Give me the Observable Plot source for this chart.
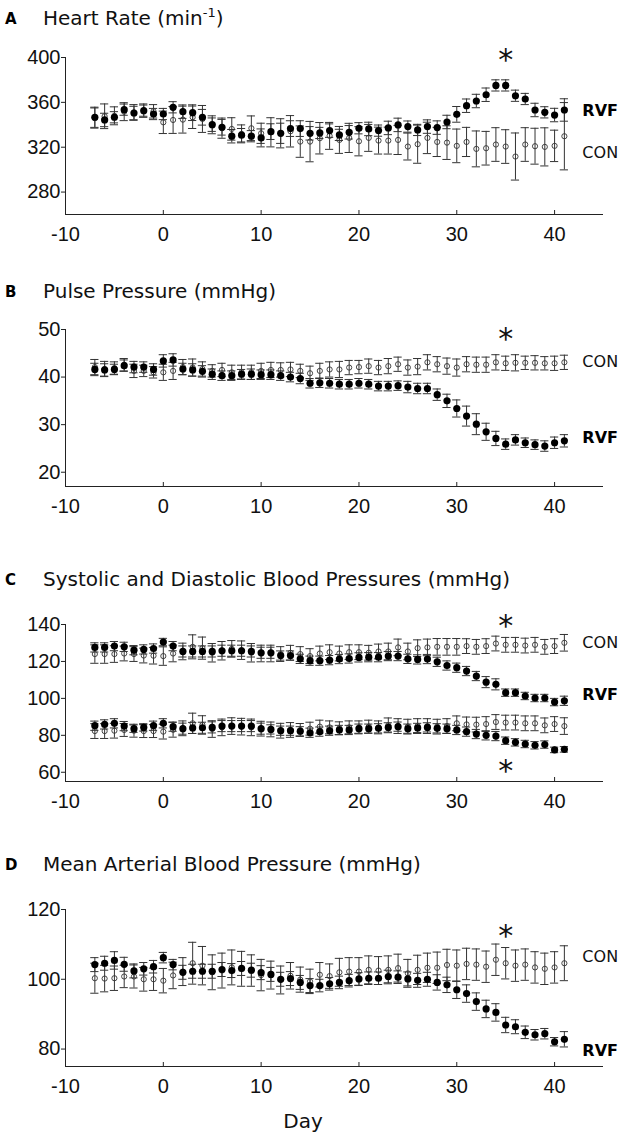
<!DOCTYPE html>
<html><head><meta charset="utf-8">
<script src="https://cdn.jsdelivr.net/npm/d3@7"></script>
<script src="https://cdn.jsdelivr.net/npm/@observablehq/plot@0.6"></script>
<style>
body{margin:0;background:#fff;}
#root{position:relative;width:621px;height:1139px;overflow:hidden;background:#fff;}
.t{position:absolute;font-family:"DejaVu Sans";font-size:20px;line-height:20px;white-space:nowrap;color:#111;z-index:5}
.t sup{font-size:13px;line-height:0;vertical-align:8px}
.l{position:absolute;font-family:"DejaVu Sans",sans-serif;font-weight:700;font-size:15px;line-height:15px;color:#000;z-index:5}
.chart{position:absolute;left:0;z-index:1}
</style></head><body><div id="root"></div>
<script>
// ---- data ----
const days = [-7,-6,-5,-4,-3,-2,-1,0,1,2,3,4,5,6,7,8,9,10,11,12,13,14,15,16,17,18,19,20,21,22,23,24,25,26,27,28,29,30,31,32,33,34,35,36,37,38,39,40,41];
const xTicks = [-10,0,10,20,30,40];

// A: Heart rate
const hrRVF = [346.7,344.3,346.7,353.5,350.5,352.6,349.6,349.6,355.6,351.7,350.8,346.7,
  340.1,337.8,329.8,330.7,329.8,328.3,333.9,332.4,336.6,336.6,332.4,332.7,334.8,
  331,333.3,336.9,336.3,334.8,337.2,339.9,338.4,335.4,338.4,337.5,342.5,
  349.3,357,361.2,366.8,375.1,375.1,365.9,363,353.2,351.1,348.7,353.2];
const hrRVFerr = [9,6,5,5,6,5,5,5,5,6,7,7, 6,7,6,6,5,8,7,9,7,7,6,5,6, 5,6,5,6,5,6,6,5,5,6,6,6, 7,6,6,6,5,5,5,5,6,5,6,10];
const hrCON = [346,347.6,348,351.7,351,352.6,352,342.2,344.3,344.6,346.7,345.2,
  340,337,336.3,331.9,336.9,332.4,333.3,332.4,334.2,325,325,328,330.1,
  326.5,328.3,325.3,328.3,325.9,325.9,326.5,320.6,322.7,328.3,324.7,324.1,
  321.2,324.7,318.5,319.1,322.4,320.6,311.7,322.4,320.9,320.3,321.2,329.8];
const hrCONerr = [9,11,8,8,7,6,6,10,12,12,10,12, 8,9,10,8,11,9,13,13,14,14,18,14,12, 12,13,13,12,12,12,13,12,17,14,13,15, 15,13,16,15,15,15,21,15,16,17,14,30];

// B: Pulse pressure
const ppRVF = [41.6,41.5,41.6,42.4,42.1,42.1,41.6,43.4,43.6,41.7,41.5,41.2,
  40.6,40.3,40.3,40.6,40.6,40.5,40.5,40.3,40,39.7,38.7,38.8,38.7,
  38.5,38.5,38.7,38.5,38.1,38.1,38.2,37.9,37.6,37.6,36.3,35,
  33.4,31.8,30.1,28.5,27.1,25.9,26.8,26.2,25.8,25.5,26.2,26.6];
const ppRVFerr = [1.3,1.3,1.1,1.2,1.2,1.1,1.2,1.3,1.3,1.2,1.3,1.2, 1.1,1,1,1,1.1,1,1,1,1,1.1,1,1,1, 1,1,1,1,1,1,1,1.2,1.1,1.1,1.2,1.4, 1.8,2.1,2.2,1.8,1.5,1.1,1.1,1,1,1.1,1.2,1.3];
const ppCON = [42.1,41.7,41.9,42.6,41.3,41.3,41,41,41.3,42.1,42,41.7,
  41.3,41.5,41,41,41,41.3,41.5,41.5,41.6,41.3,40.8,41.3,41.6,
  41.6,42,42.1,42.3,42,42.3,42.7,42,42.2,43.1,42.7,42.3,
  42,42.7,42.6,42.6,43.1,42.9,43,43,43,42.9,42.9,43.1];
const ppCONerr = [1.6,1.6,1.3,1.3,1.4,1.2,1.2,1.7,1.8,1.6,1.8,1.5, 1.3,1.4,1.5,1.5,1.5,1.6,1.6,1.5,1.5,1.4,1.5,1.6,1.6, 1.7,1.5,1.4,1.5,1.5,1.6,1.5,1.6,1.7,1.6,1.6,1.7, 1.8,1.6,1.6,1.6,1.6,1.5,1.7,1.4,1.5,1.4,1.5,1.5];

// C: Systolic / diastolic
const sysRVF = [127.6,127.6,128.3,127.9,126.1,126.5,127,130.5,128.3,125.4,125.4,125.4,
  125.4,125.8,125.8,125.8,125.4,124.7,124.7,123.2,123.2,121.4,120.4,120.4,120.7,
  121.3,121.6,122.2,122.3,122.3,122.9,122.9,121.4,121.1,121.3,119.8,117.8,
  116.6,114.8,112.1,108.8,107.6,103.1,103.1,101.3,100.2,100.2,98,98.7];
const sysRVFerr = [2.5,2.5,2.5,2.5,2.5,2.5,2.5,2,2.5,3,3,3, 3,3,3,3,3,3,3,2.5,2.5,2.5,2.5,2.5,2.5, 2.5,2.5,2.5,2.5,2.5,2.5,2.5,2.5,2.5,2.5,2.5,2.5, 2.5,2.5,2.5,3,3,2,2,2,2,2,2,2.5];
const sysCON = [124,124,124,124.3,124,123.2,123.1,122.9,124.3,125.4,127.9,127.2,
  124.7,125.8,126.8,126.1,124.7,124.3,124.3,124,124.7,124,122.9,124.3,125,
  124.3,125,125,124.7,125.4,125.4,127.6,125.4,127.2,127.6,127.9,127.9,
  127.9,128.3,127.9,128.3,129.7,129,129,128.6,129,127.9,128.3,130.1];
const sysCONerr = [5,5,4.5,4,4,4,4.5,5,4.5,4.5,6.5,6, 5,5,4.5,5,5,4.5,4.5,4,4,4,4,4,4, 4,4,4,4,4,4.5,4.5,4.5,4.5,4.5,4.5,4.5, 4.5,4,4,4,4,4,4,4,4,4,4,4.5];
const diaRVF = [85.2,85.9,86.5,85,83.6,84.3,85.2,86.5,84.7,83.6,84,84.1,
  84.3,85,85,85,85,83.6,83.2,82.5,82.5,82.2,81.4,82,82.5,
  82.9,82.9,83.6,83.6,83.8,84.3,84.7,83.6,84,84.3,83.8,83.6,
  82.9,82,80.7,80,79.6,77.1,76.2,75.3,74.6,75,72.1,72.4];
const diaRVFerr = [2.5,2.5,2.5,2.5,2,2,2.5,2.5,2.5,3,3,3, 3,3,3,3,3,3,2.5,2.5,2.5,2.5,2.5,2.5,2.5, 2.5,2.5,2.5,2.5,2.5,2.5,2.5,2.5,2.5,2.5,2.5,2.5, 2.5,2.5,2.5,2.5,2.5,2,2,2,2,2,1.5,1.5];
const diaCON = [82.3,82.3,82.5,82.9,82.5,82.3,82.3,82,83,83.8,86.5,85.6,
  83.4,84.3,85,84.7,84.3,83.6,83.2,82.5,82.9,82.9,83.6,84.7,84.3,
  83.8,84.3,84.3,84.7,84.3,85.4,85,84.7,85,85,84.7,85,
  86.5,85.9,85.8,86.1,87.2,86.9,86.9,86.5,86.5,85.4,86.1,85];
const diaCONerr = [4,4,4,3.5,3.5,3.5,3.5,4,4,4,5.5,5, 4.5,4.5,4.5,4.5,4.5,4,4,4,4,3.5,3.5,3.5,3.5, 3.5,3.5,3.5,3.5,3.5,4,4,4,4,4,4,4, 4,4,4,4,4,4,4,4,4,4,4,4.5];

// D: Mean arterial pressure
const mapRVF = [104.2,104.6,105.4,104.3,102.4,103,103.6,106.2,104.2,102,102.3,102.3,
  102.3,102.8,102.5,103.1,102.6,101.9,101.4,100,100.2,99.1,98.2,98.2,98.7,
  99.1,99.6,100.1,100.3,100.3,100.8,100.6,100.1,99.7,100,99.1,98.4,
  97,95.9,93.6,91.5,90.5,86.9,86.4,84.8,84.1,84.4,82.1,82.8];
const mapRVFerr = [2,2,2.5,2,2,1.8,1.8,1.5,1.5,2,2,2, 2,2,2,2,2,2,2,2,2,2,2,1.8,1.8, 1.8,1.8,1.8,1.8,1.8,1.8,1.8,2,2,2,2.2,2.2, 2.5,2.5,2.5,2.5,2.5,2.2,2,1.8,1.5,1.5,1.2,2.2];
const mapCON = [100.3,100.2,100.3,100.8,100.8,100,100,99.6,101.1,102.2,104.6,103.9,
  102,102.5,103.4,103,102.5,101.2,101.2,99.8,101,99.9,99.4,101.3,100.9,
  102,102.2,102.2,102.7,102.5,102.7,103.2,101.7,102.7,103.3,103.3,104.1,
  103.9,104.4,104.2,103.6,105.6,104.6,103.9,104.2,103.4,103,103.4,104.6];
const mapCONerr = [4.3,3.8,3.5,3.2,3.3,3.4,3.2,3.5,3.8,4,6,5.5, 5,5,5,5,4.5,4.5,4,4,3.8,3.6,3.5,3.5,3.5, 4,4,4,4,4,4,4,4,4.2,4.2,4.5,4.5, 4.5,4.5,4.5,4.5,4.5,4.5,4.5,4.5,4.5,4.5,4.5,5];

// ---- drawing ----
const rows = (v, e) => days.map((d, i) => ({day: d, v: v[i], e: e[i]}));
const root = document.getElementById("root");
const PH = 157; // plot-frame height in px
const mT = 40, mB = 45;
const axisCol = "#222", barCol = "#333";

function addText(cls, html, left, top, center) {
  const el = document.createElement("div");
  el.className = cls; el.innerHTML = html;
  el.style.left = left + "px"; el.style.top = top + "px";
  if (center) el.style.transform = "translateX(-50%)";
  root.appendChild(el);
}

function panel(cfg) {
  const errMarks = [];
  const dotMarks = [];
  for (const s of cfg.series) {
    const data = rows(s.v, s.e);
    errMarks.push(
      Plot.ruleX(data, {x: "day", y1: d => d.v - d.e, y2: d => d.v + d.e, stroke: barCol, strokeWidth: 1}),
      Plot.ruleY(data, {y: d => d.v + d.e, x1: d => d.day - 0.42, x2: d => d.day + 0.42, stroke: barCol, strokeWidth: 1}),
      Plot.ruleY(data, {y: d => d.v - d.e, x1: d => d.day - 0.42, x2: d => d.day + 0.42, stroke: barCol, strokeWidth: 1})
    );
    if (s.filled) dotMarks.push(Plot.dot(data, {x: "day", y: "v", r: 3.6, fill: "#000", stroke: "none"}));
    else dotMarks.unshift(Plot.dot(data, {x: "day", y: "v", r: 2.6, fill: "none", stroke: "#333", strokeWidth: 0.9}));
  }
  const chart = Plot.plot({
    width: 621, height: mT + PH + mB,
    marginTop: mT, marginBottom: mB, marginLeft: 65, marginRight: 18,
    x: {domain: [-10, 45]},
    y: {domain: cfg.domain},
    style: {background: "transparent", overflow: "visible", fontFamily: "'Liberation Sans', Arial, sans-serif", fontSize: "20px", color: "#111"},
    marks: [
      Plot.axisY({ticks: cfg.yTicks, tickSize: 4, tickPadding: 1, label: null, tickFormat: d => String(d), stroke: axisCol}),
      Plot.axisX({ticks: xTicks, tickSize: 0, tickPadding: 12, label: null, tickFormat: d => String(d)}),
      Plot.tickX(xTicks, {x: d => d, insetTop: PH - 4, stroke: axisCol}),
      Plot.ruleX([cfg.domain[0]], {x: () => -10, stroke: axisCol}),
      Plot.ruleY([cfg.domain[0]], {stroke: axisCol}),
      ...errMarks,
      ...dotMarks,
      Plot.text(cfg.labels.filter(d => !d.bold), {x: () => 41, y: "y", text: "text", dx: 18, textAnchor: "start", lineAnchor: "middle",
        fontFamily: "DejaVu Sans", fontSize: 16, fill: "#111"}),
      Plot.text(cfg.labels.filter(d => d.bold), {x: () => 41, y: "y", text: "text", dx: 18, textAnchor: "start", lineAnchor: "middle",
        fontFamily: "DejaVu Sans", fontSize: 16, fontWeight: "bold", fill: "#000"}),
      Plot.text(cfg.stars, {x: () => 35, y: d => d, text: () => "*", fontFamily: "DejaVu Sans", fontSize: 30, lineAnchor: "middle", dy: 7, fill: "#111"})
    ]
  });
  const wrap = document.createElement("div");
  wrap.className = "chart";
  wrap.style.top = (cfg.top - mT) + "px";
  wrap.appendChild(chart);
  root.appendChild(wrap);
  addText("l", cfg.letter, 5, cfg.base - 13);
  addText("t", cfg.title, 43, cfg.base - 17);
}

panel({letter: "A", title: "Heart Rate (min<sup>-1</sup>)", base: 25, top: 56.7,
  domain: [260, 400], yTicks: [280, 320, 360, 400],
  series: [{v: hrCON, e: hrCONerr}, {v: hrRVF, e: hrRVFerr, filled: true}],
  labels: [{y: 352.6, text: "RVF", bold: true}, {y: 315.3, text: "CON"}],
  stars: [403.3]});
panel({letter: "B", title: "Pulse Pressure (mmHg)", base: 298, top: 329,
  domain: [17, 50], yTicks: [20, 30, 40, 50],
  series: [{v: ppCON, e: ppCONerr}, {v: ppRVF, e: ppRVFerr, filled: true}],
  labels: [{y: 43.1, text: "CON"}, {y: 27.3, text: "RVF", bold: true}],
  stars: [49.4]});
panel({letter: "C", title: "Systolic and Diastolic Blood Pressures (mmHg)", base: 586, top: 624.3,
  domain: [55, 140], yTicks: [60, 80, 100, 120, 140],
  series: [{v: sysCON, e: sysCONerr}, {v: diaCON, e: diaCONerr}, {v: sysRVF, e: sysRVFerr, filled: true}, {v: diaRVF, e: diaRVFerr, filled: true}],
  labels: [{y: 129.9, text: "CON"}, {y: 101.8, text: "RVF", bold: true}],
  stars: [142.9, 64.5]});
panel({letter: "D", title: "Mean Arterial Blood Pressure (mmHg)", base: 871, top: 909,
  domain: [75, 120], yTicks: [80, 100, 120],
  series: [{v: mapCON, e: mapCONerr}, {v: mapRVF, e: mapRVFerr, filled: true}],
  labels: [{y: 106.5, text: "CON"}, {y: 79.5, text: "RVF", bold: true}],
  stars: [114.3]});
addText("t", "Day", 303, 1128 - 17, true);
</script></body></html>
